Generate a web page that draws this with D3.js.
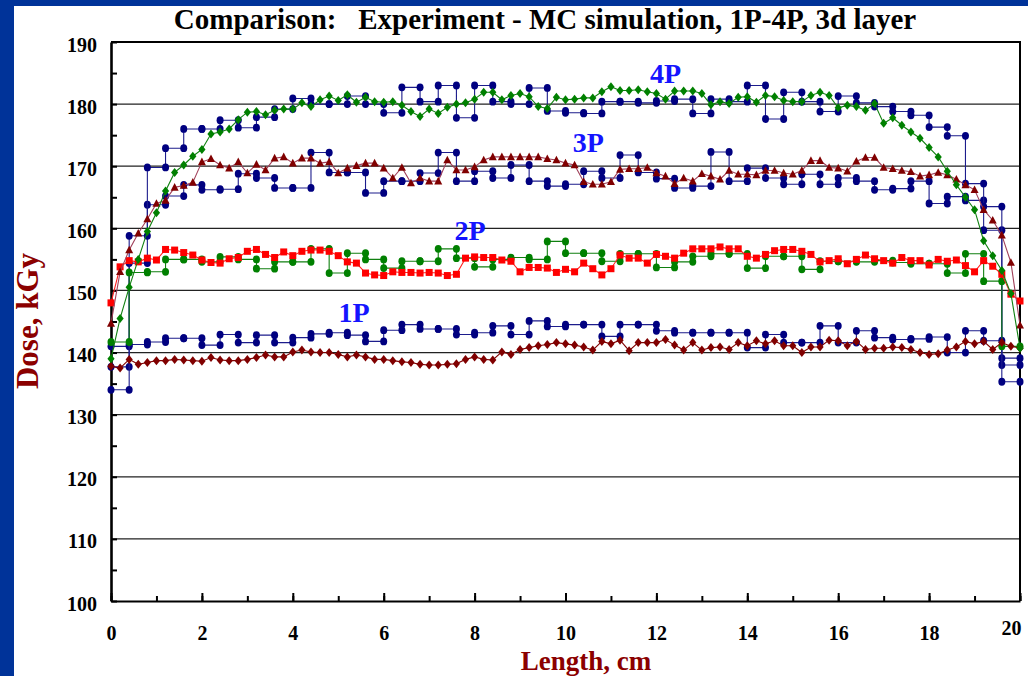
<!DOCTYPE html>
<html>
<head>
<meta charset="utf-8">
<style>
    body { margin: 0; background: #003399; }
    svg { display: block; }
    text { font-family: "Liberation Serif", "Times New Roman", serif; font-weight: bold; }
</style>
</head>
<body>
<script src="https://cdn.jsdelivr.net/npm/d3@7/dist/d3.min.js"></script>
<script>
// Simulation curves: one value every 0.2 cm along the 20 cm length
var simX = d3.range(101).map(function (i) { return +(i * 0.2).toFixed(1); });

var sim1P = [137.8,137.5,138.9,138.1,138.4,138.7,138.7,138.9,138.8,138.7,
    138.6,139.2,138.8,138.7,138.7,138.9,139.2,139.6,139.3,139.3,
    140.1,140.4,140.1,140.0,140.0,139.7,139.3,139.6,139.3,138.9,
    138.9,138.7,138.5,138.4,138.1,138.0,138.0,138.1,138.2,138.9,
    139.3,138.9,138.8,140.1,139.7,140.5,140.8,141.1,141.3,141.6,
    141.4,141.2,140.9,140.4,141.8,141.4,142.0,140.3,141.6,141.6,
    141.6,142.1,141.2,140.4,141.6,140.4,140.8,140.9,140.5,141.6,
    141.1,141.9,141.4,141.9,141.1,141.1,140.0,140.9,140.9,142.0,
    141.9,141.1,141.8,140.5,140.7,140.7,140.9,140.8,140.5,140.0,
    139.7,139.8,140.4,140.9,141.8,141.4,141.8,140.5,141.6,141.0,
    140.7];

var sim2P = [148.0,153.8,154.8,154.6,155.2,154.9,156.6,156.5,156.1,155.7,
    154.9,154.5,154.4,155.1,155.3,156.3,156.6,155.8,155.3,156.2,
    155.6,156.3,156.5,156.5,156.3,155.6,154.6,154.4,152.8,152.5,
    152.4,153.0,152.9,152.9,152.8,152.9,152.8,152.4,152.6,155.2,
    155.4,155.3,155.3,154.9,154.7,153.0,153.7,153.7,153.6,152.9,
    153.4,153.0,154.4,153.5,152.5,153.5,155.7,155.2,155.2,154.4,
    155.8,155.5,155.2,156.0,156.7,156.7,156.7,157.0,156.7,156.7,
    155.5,155.2,155.8,156.4,156.6,156.6,156.3,155.8,154.6,154.8,
    155.1,154.3,155.0,155.7,155.1,154.8,154.4,155.3,154.8,154.8,
    154.1,155.0,154.7,154.9,154.0,153.0,154.8,153.9,152.6,149.4,
    148.3];

var sim3P = [144.7,153.0,156.5,159.2,161.5,164.0,164.5,166.6,166.9,167.4,
    170.7,171.2,170.2,169.7,170.7,168.9,170.3,169.4,171.3,171.5,
    170.5,171.3,171.3,170.5,170.7,168.9,169.7,170.1,170.5,170.5,
    169.7,168.1,169.8,167.3,168.1,167.6,167.6,171.0,169.4,169.4,
    169.9,171.0,171.5,171.5,171.5,171.5,171.5,171.5,171.2,171.0,
    170.5,170.2,167.5,167.1,167.1,167.5,169.5,169.6,169.6,169.8,
    168.9,168.4,167.2,168.1,167.6,168.8,168.4,167.9,169.3,168.7,
    168.7,168.6,169.3,169.3,168.9,168.7,169.3,170.9,170.9,169.8,
    169.7,169.2,170.8,171.4,171.4,169.8,169.6,169.3,169.1,168.4,
    168.6,169.0,168.6,167.9,167.0,166.2,163.0,161.3,158.9,154.5,
    144.4];

var sim4P = [139.0,145.5,150.5,155.0,159.5,162.5,166.0,169.0,170.2,171.6,
    172.7,175.2,175.5,176.0,177.5,178.7,178.8,178.3,179.0,179.2,
    179.2,180.2,179.6,180.7,181.3,180.6,181.5,180.3,181.1,180.4,
    180.3,180.4,179.8,178.8,178.0,179.2,178.5,179.5,180.0,180.2,
    180.8,181.9,181.9,180.7,181.4,181.7,181.2,179.6,179.3,181.1,
    180.7,180.8,181.0,181.0,182.0,182.8,182.2,182.2,182.3,182.0,
    181.7,180.8,182.1,182.1,182.1,181.7,179.9,180.4,180.1,181.1,
    181.2,180.3,181.4,181.2,180.6,180.4,180.4,181.4,181.9,181.4,
    179.4,179.8,179.6,179.0,180.1,176.9,177.8,176.6,175.5,174.5,
    173.0,171.5,169.2,167.0,165.0,163.0,158.0,155.6,153.2,149.5,
    140.7];

// Experiment: one value per 0.4 cm strip (50 strips), drawn as steps
var stripEdges = d3.range(51).map(function (i) { return +(i * 0.4).toFixed(1); });

var exp1P = [141.0,141.3,141.7,142.3,142.3,141.2,142.9,141.6,142.8,141.6,
    142.4,143.0,143.2,142.8,141.8,143.6,144.5,143.8,143.8,142.9,
    143.2,144.3,142.9,145.1,144.2,144.5,144.5,142.6,144.5,144.5,
    143.5,143.2,143.2,143.2,143.2,140.8,142.9,141.6,141.6,144.3,
    141.6,143.5,142.4,142.1,142.2,142.5,140.0,143.5,141.9,139.1];

var exp2P = [141.7,152.9,153.0,155.0,155.0,154.6,155.4,155.0,153.5,154.6,
    154.6,156.7,152.8,156.0,155.0,153.6,154.7,154.7,156.7,155.2,
    153.8,155.0,155.3,155.0,157.9,156.0,156.0,154.7,155.9,155.9,
    153.7,154.6,155.5,155.9,155.9,153.6,155.5,155.5,153.4,154.7,
    154.7,154.6,154.8,154.5,154.3,154.3,152.8,155.9,151.5,141.0];

var exp3P = [137.7,154.4,163.8,165.2,167.0,166.2,166.3,168.8,168.1,166.5,
    166.5,172.2,169.0,169.0,165.7,167.6,167.6,168.9,172.2,167.6,
    169.2,168.1,170.2,167.6,166.8,167.1,169.2,168.1,171.8,169.0,
    168.0,166.5,166.8,172.3,167.6,169.7,168.1,167.1,168.7,167.1,
    168.1,167.6,166.2,166.4,167.6,164.0,165.1,164.5,159.7,138.0];

var exp4P = [134.0,158.8,169.8,172.9,176.0,176.0,177.4,176.2,177.9,179.2,
    180.9,180.0,180.0,181.3,180.0,178.6,182.7,180.4,183.0,177.8,
    183.0,180.4,180.0,182.6,178.9,178.6,178.5,180.4,180.4,180.2,
    180.5,180.8,178.5,180.8,180.4,183.0,177.6,181.9,180.4,178.8,
    181.3,180.2,179.6,178.8,178.2,176.3,174.9,167.2,163.5,135.3];

var xTickValues = [0, 2, 4, 6, 8, 10, 12, 14, 16, 18, 20];
var yTickValues = [100, 110, 120, 130, 140, 150, 160, 170, 180, 190];
var seriesNames = ["1P", "2P", "3P", "4P"];

// ---- layout ----
var W = 1028, H = 676;
var plot = { left: 111, right: 1020, top: 42, bottom: 601 };

var svg = d3.select("body").append("svg")
    .attr("width", W)
    .attr("height", H);

// blue slide background with white panel
svg.append("rect").attr("width", W).attr("height", H).attr("fill", "#003399");
svg.append("rect").attr("x", 14).attr("y", 6)
    .attr("width", W - 14).attr("height", H - 6).attr("fill", "#ffffff");

var x = d3.scaleLinear().domain([0, 20]).range([plot.left, plot.right]);
var y = d3.scaleLinear().domain([100, 190]).range([plot.bottom, plot.top]);

// horizontal grid lines
svg.append("g")
    .selectAll("line")
    .data(yTickValues.slice(1, -1))
    .enter().append("line")
    .attr("x1", plot.left).attr("x2", plot.right)
    .attr("y1", function (d) { return y(d); })
    .attr("y2", function (d) { return y(d); })
    .attr("stroke", "#222")
    .attr("stroke-width", 1.3);

// top and right frame
svg.append("path")
    .attr("d", "M" + plot.left + "," + plot.top + "H" + plot.right + "V" + plot.bottom)
    .attr("fill", "none")
    .attr("stroke", "#000")
    .attr("stroke-width", 2);

// x axis: minor ticks every cm, major ticks + labels every 2 cm
svg.append("g")
    .attr("transform", "translate(0," + plot.bottom + ")")
    .call(d3.axisBottom(x).tickValues(d3.range(21)).tickSizeInner(-5).tickSizeOuter(0).tickFormat(""))
    .call(function (g) { g.select(".domain").remove(); g.selectAll("line").attr("stroke-width", 2); });

var xAxis = svg.append("g")
    .attr("transform", "translate(0," + plot.bottom + ")")
    .call(d3.axisBottom(x).tickValues(xTickValues).tickSizeInner(-8).tickSizeOuter(0).tickPadding(25));
xAxis.select(".domain").attr("stroke-width", 2.2);
xAxis.selectAll("line").attr("stroke-width", 2);
xAxis.selectAll("text")
    .attr("font-size", 20)
    .attr("fill", "#000")
    .attr("dy", function (d) { return d === 20 ? "0.45em" : "0.71em"; })
    .attr("text-anchor", function (d) { return d === 20 ? "end" : "middle"; })
    .attr("dx", function (d) { return d === 20 ? 1 : 0; });

// y axis: minor ticks at the fives, labels every 10
svg.append("g")
    .attr("transform", "translate(" + plot.left + ",0)")
    .call(d3.axisLeft(y).tickValues(d3.range(105, 190, 10)).tickSizeInner(-6).tickSizeOuter(0).tickFormat(""))
    .call(function (g) { g.select(".domain").remove(); g.selectAll("line").attr("stroke-width", 2); });

var yAxis = svg.append("g")
    .attr("transform", "translate(" + plot.left + ",0)")
    .call(d3.axisLeft(y).tickValues(yTickValues).tickSizeInner(-6).tickSizeOuter(0).tickPadding(14));
yAxis.select(".domain").attr("stroke-width", 2.6);
yAxis.selectAll("line").attr("stroke-width", 2);
yAxis.selectAll("text")
    .attr("font-size", 20)
    .attr("fill", "#000")
    .attr("dy", "0.45em");

// ---- series ----
var line = d3.line()
    .x(function (d) { return x(d[0]); })
    .y(function (d) { return y(d[1]); });

function simPoints(values) {
    return values.map(function (v, i) { return [simX[i], v]; });
}

// each strip becomes two points: its start and end edge at the same dose
function stepPoints(values) {
    var pts = [];
    values.forEach(function (v, i) {
        pts.push([stripEdges[i], v]);
        pts.push([stripEdges[i + 1], v]);
    });
    return pts;
}

var markers = {
    circle: function (g) { g.append("ellipse").attr("rx", 3.5).attr("ry", 3.9); },
    diamond: function (g) { g.append("path").attr("d", "M0,-4.5L3.6,0L0,4.5L-3.6,0Z"); },
    triangle: function (g) { g.append("path").attr("d", "M0,-4.3L4,3.3L-4,3.3Z"); },
    square: function (g) { g.append("rect").attr("x", -3.5).attr("y", -3.5).attr("width", 7).attr("height", 7); }
};

function drawSeries(points, lineColor, markerColor, shape) {
    var g = svg.append("g");
    g.append("path")
        .datum(points)
        .attr("d", line)
        .attr("fill", "none")
        .attr("stroke", lineColor)
        .attr("stroke-width", 1.1);
    g.selectAll("g")
        .data(points)
        .enter().append("g")
        .attr("transform", function (d) { return "translate(" + x(d[0]) + "," + y(d[1]) + ")"; })
        .attr("fill", markerColor)
        .each(function () { markers[shape](d3.select(this)); });
}

// experiments (step lines with circles)
drawSeries(stepPoints(exp1P), "#1c1c8c", "#000080", "circle");
drawSeries(stepPoints(exp3P), "#1c1c8c", "#000080", "circle");
drawSeries(stepPoints(exp4P), "#1c1c8c", "#000080", "circle");
drawSeries(stepPoints(exp2P), "#108010", "#008000", "circle");

// MC simulations
drawSeries(simPoints(sim1P), "#800000", "#800000", "diamond");
drawSeries(simPoints(sim2P), "#ff2020", "#ff0000", "square");
drawSeries(simPoints(sim3P), "#a0405a", "#800000", "triangle");
drawSeries(simPoints(sim4P), "#108010", "#008000", "diamond");

// series labels, placed in data coordinates next to their curves
var labelAt = { "1P": [5.35, 144.9], "2P": [7.9, 158.1], "3P": [10.5, 172.3], "4P": [12.2, 183.4] };
svg.append("g")
    .selectAll("text")
    .data(seriesNames)
    .enter().append("text")
    .attr("x", function (d) { return x(labelAt[d][0]); })
    .attr("y", function (d) { return y(labelAt[d][1]); })
    .attr("text-anchor", "middle")
    .attr("font-size", 28)
    .attr("fill", "#1414ff")
    .text(function (d) { return d; });

// ---- titles ----
svg.append("text")
    .attr("x", 545)
    .attr("y", 29)
    .attr("text-anchor", "middle")
    .attr("font-size", 29)
    .attr("fill", "#000")
    .style("white-space", "pre")
    .text("Comparison:   Experiment - MC simulation, 1P-4P, 3d layer");

svg.append("text")
    .attr("x", 586)
    .attr("y", 670)
    .attr("text-anchor", "middle")
    .attr("font-size", 27)
    .attr("fill", "#8b0000")
    .text("Length, cm");

svg.append("text")
    .attr("transform", "translate(38,321) rotate(-90)")
    .attr("text-anchor", "middle")
    .attr("font-size", 31)
    .attr("fill", "#8b0000")
    .text("Dose, kGy");
</script>
</body>
</html>
